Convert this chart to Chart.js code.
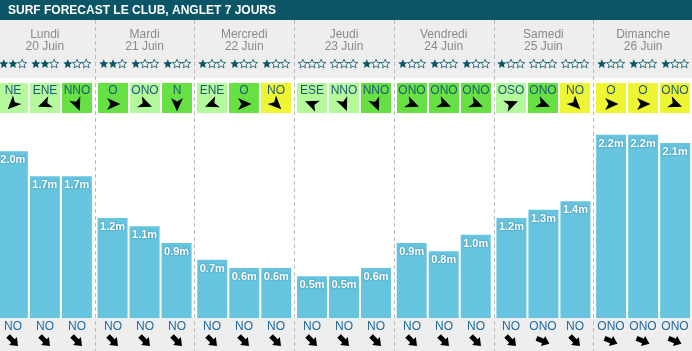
<!DOCTYPE html>
<html>
<head>
<meta charset="utf-8">
<script src="https://cdn.jsdelivr.net/npm/chart.js@4/dist/chart.umd.min.js"></script>
<style>
  html, body { margin: 0; padding: 0; overflow: hidden; background: #fff; }
  #wrap { position: absolute; left: -5px; top: 0; width: 700px; height: 351px; }
</style>
</head>
<body>
<div id="wrap"><canvas id="surf" width="700" height="351"></canvas></div>
<script>
// jours et dates
const days = ['Lundi', 'Mardi', 'Mercredi', 'Jeudi', 'Vendredi', 'Samedi', 'Dimanche'];
const dates = ['20 Juin', '21 Juin', '22 Juin', '23 Juin', '24 Juin', '25 Juin', '26 Juin'];

// hauteur des vagues (m), 3 creneaux par jour
const waveHeights = [2.0, 1.7, 1.7, 1.2, 1.1, 0.9, 0.7, 0.6, 0.6, 0.5, 0.5, 0.6, 0.9, 0.8, 1.0, 1.2, 1.3, 1.4, 2.2, 2.2, 2.1];
// etoiles (sur 3)
const stars = [2, 2, 1, 2, 1, 1, 1, 1, 1, 0, 0, 1, 1, 1, 1, 1, 0, 0, 1, 1, 1];
// vent : direction et force (0 faible, 1 moyen, 2 fort)
const windDir = ['NE', 'ENE', 'NNO', 'O', 'ONO', 'N', 'ENE', 'O', 'NO', 'ESE', 'NNO', 'NNO', 'ONO', 'ONO', 'ONO', 'OSO', 'ONO', 'NO', 'O', 'O', 'ONO'];
const windLevel = [0, 0, 1, 1, 0, 1, 0, 1, 2, 0, 0, 1, 1, 1, 1, 0, 1, 2, 2, 2, 2];
// direction de la houle
const swellDir = ['NO', 'NO', 'NO', 'NO', 'NO', 'NO', 'NO', 'NO', 'NO', 'NO', 'NO', 'NO', 'NO', 'NO', 'NO', 'NO', 'ONO', 'NO', 'ONO', 'ONO', 'ONO'];

const slotNames = ['Matin', 'Midi', 'Soir'];

const compass = { N: 0, NNE: 22.5, NE: 45, ENE: 67.5, E: 90, ESE: 112.5, SE: 135, SSE: 157.5,
  S: 180, SSO: 202.5, SO: 225, OSO: 247.5, O: 270, ONO: 292.5, NO: 315, NNO: 337.5 };
const windColors = ['#b4fa9c', '#66e043', '#eef533'];
const teal = '#0b5566';
const FONT = '"Liberation Sans", Arial, sans-serif';

// dessine une etoile
function drawStar(ctx, cx, cy, r, filled) {
  ctx.beginPath();
  for (let i = 0; i < 10; i++) {
    const rad = i % 2 === 0 ? r : r * 0.45;
    const a = -Math.PI / 2 + i * Math.PI / 5;
    const x = cx + rad * Math.cos(a), y = cy + rad * Math.sin(a);
    if (i === 0) ctx.moveTo(x, y); else ctx.lineTo(x, y);
  }
  ctx.closePath();
  if (filled) {
    ctx.fillStyle = teal;
    ctx.fill();
  } else {
    ctx.strokeStyle = teal;
    ctx.lineWidth = 0.8;
    ctx.stroke();
  }
}

// fleche "dart" pour le vent
function windArrow(ctx, cx, cy, dir) {
  const rot = (compass[dir] + 90) * Math.PI / 180;
  ctx.save();
  ctx.translate(cx, cy);
  ctx.rotate(rot);
  ctx.beginPath();
  ctx.moveTo(7.5, 0);
  ctx.lineTo(-6, -6);
  ctx.lineTo(-2.5, 0);
  ctx.lineTo(-6, 6);
  ctx.closePath();
  ctx.fillStyle = '#000';
  ctx.fill();
  ctx.restore();
}

// fleche epaisse pour la houle
function swellArrow(ctx, cx, cy, dir) {
  const rot = (compass[dir] + 90) * Math.PI / 180;
  ctx.save();
  ctx.translate(cx, cy);
  ctx.rotate(rot);
  ctx.beginPath();
  ctx.moveTo(-7, -2.5);
  ctx.lineTo(0, -2.5);
  ctx.lineTo(0, -5.5);
  ctx.lineTo(7, 0);
  ctx.lineTo(0, 5.5);
  ctx.lineTo(0, 2.5);
  ctx.lineTo(-7, 2.5);
  ctx.closePath();
  ctx.fillStyle = '#000';
  ctx.fill();
  ctx.restore();
}

function barAt(chart, i) {
  const day = Math.floor(i / 3), slot = i % 3;
  return chart.getDatasetMeta(slot).data[day];
}

const surfPlugin = {
  id: 'surfLayout',
  beforeDatasetsDraw(chart) {
    const ctx = chart.ctx;
    const area = chart.chartArea;
    const W = chart.width;
    const dayW = (area.right - area.left) / days.length;
    ctx.save();
    // fonds
    ctx.fillStyle = teal;
    ctx.fillRect(0, 0, W, 20);
    ctx.fillStyle = '#eeeeee';
    ctx.fillRect(0, 20, W, 58);
    ctx.fillRect(0, area.bottom, W, chart.height - area.bottom);

    // titre
    ctx.fillStyle = '#fff';
    ctx.font = 'bold 12px ' + FONT;
    ctx.textAlign = 'left';
    ctx.textBaseline = 'middle';
    ctx.fillText('SURF FORECAST LE CLUB, ANGLET 7 JOURS', 13, 10.5);

    // separateurs
    ctx.strokeStyle = '#bbbbbb';
    ctx.lineWidth = 1;
    ctx.setLineDash([4, 3]);
    for (let d = 1; d < days.length; d++) {
      const x = Math.round(area.left + d * dayW) + 0.5;
      ctx.beginPath();
      ctx.moveTo(x, 20);
      ctx.lineTo(x, chart.height);
      ctx.stroke();
    }
    ctx.setLineDash([]);

    // jours
    ctx.fillStyle = '#8a8a8a';
    ctx.font = '12px ' + FONT;
    ctx.textAlign = 'center';
    days.forEach((d, k) => {
      const cx = area.left + (k + 0.5) * dayW;
      ctx.fillText(d, cx, 35);
      ctx.fillText(dates[k], cx, 47);
    });

    // etoiles, vent, houle
    waveHeights.forEach((h, i) => {
      const bar = barAt(chart, i);
      const x0 = Math.round(bar.x - bar.width / 2), x1 = Math.round(bar.x + bar.width / 2);
      const cx = (x0 + x1) / 2;
      for (let s = 0; s < 3; s++) {
        drawStar(ctx, cx + (s - 1) * 9.2, 64, 4.8, s < stars[i]);
      }
      ctx.fillStyle = windColors[windLevel[i]];
      ctx.fillRect(x0, 83, x1 - x0, 30);
      ctx.fillStyle = '#1b5a7a';
      ctx.font = '12px ' + FONT;
      ctx.fillText(windDir[i], cx, 91);
      windArrow(ctx, cx, 104, windDir[i]);

      ctx.fillStyle = '#1c6b9e';
      ctx.fillText(swellDir[i], cx, 327);
      swellArrow(ctx, cx, 341, swellDir[i]);
    });
    ctx.restore();
  },
  afterDatasetsDraw(chart) {
    const ctx = chart.ctx;
    ctx.save();
    ctx.font = 'bold 11px ' + FONT;
    ctx.textAlign = 'center';
    ctx.textBaseline = 'middle';
    ctx.fillStyle = '#fff';
    ctx.shadowColor = 'rgba(0,60,90,0.5)';
    ctx.shadowBlur = 2;
    waveHeights.forEach((h, i) => {
      const bar = barAt(chart, i);
      ctx.fillText(h.toFixed(1) + 'm', bar.x, bar.y + 9);
    });
    ctx.restore();
  }
};

const datasets = slotNames.map((name, k) => ({
  label: name,
  data: waveHeights.filter((v, i) => i % 3 === k),
  backgroundColor: '#66c4df',
  borderWidth: 0,
  barPercentage: 0.9375,
  categoryPercentage: 0.963
}));

new Chart(document.getElementById('surf'), {
  type: 'bar',
  data: { labels: days, datasets: datasets },
  options: {
    responsive: false,
    animation: false,
    layout: { padding: { top: 118, bottom: 33, left: 0, right: 2 } },
    scales: {
      x: { display: false },
      y: { display: false, min: 0, max: 2.4 }
    },
    plugins: { legend: { display: false }, tooltip: { enabled: false } }
  },
  plugins: [surfPlugin]
});
</script>
</body>
</html>
